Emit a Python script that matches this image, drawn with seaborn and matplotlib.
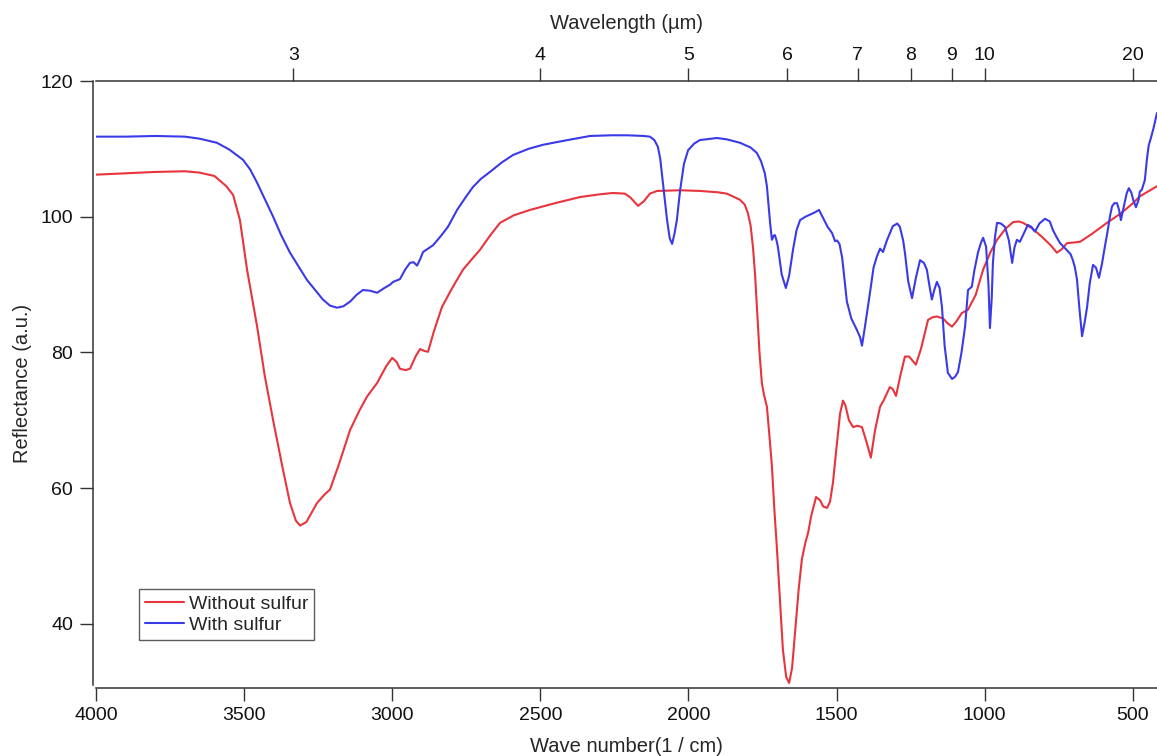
import numpy as np
import pandas as pd
import matplotlib
matplotlib.use("Agg")
import matplotlib.pyplot as plt
import seaborn as sns
from matplotlib.lines import Line2D

# ---------------- data ----------------
wn_without = [4000, 3900, 3800, 3700, 3650, 3600, 3560, 3537, 3514, 3490, 3456, 3430, 3402, 3370,
              3345, 3325, 3311, 3290, 3254, 3230, 3210, 3180, 3142, 3110, 3085, 3051, 3020, 3000,
              2985, 2974, 2955, 2940, 2920, 2906, 2890, 2879, 2860, 2832, 2800, 2761, 2730, 2704,
              2670, 2636, 2590, 2535, 2450, 2366, 2300, 2255, 2214, 2195, 2170, 2150, 2130, 2106,
              2028, 1961, 1900, 1870, 1826, 1810, 1799, 1790, 1782, 1775, 1769, 1760, 1752, 1745,
              1735, 1727, 1718, 1710, 1701, 1690, 1681, 1670, 1660, 1650, 1640, 1628, 1617, 1605,
              1596, 1585, 1569, 1555, 1545, 1532, 1522, 1512, 1500, 1488, 1478, 1470, 1458, 1444,
              1430, 1414, 1400, 1384, 1370, 1353, 1340, 1320, 1310, 1299, 1285, 1269, 1255, 1232,
              1215, 1191, 1175, 1161, 1140, 1125, 1110, 1095, 1077, 1056, 1030, 1005, 980, 958,
              930, 904, 885, 870, 840, 803, 775, 756, 740, 722, 700, 678, 640, 587, 540, 499,
              476, 445, 418]
refl_without = [106.2, 106.4, 106.6, 106.7, 106.5, 106.0, 104.5, 103.2, 99.5, 92.2, 83.8, 76.5, 70.0, 63.0,
                57.8, 55.2, 54.5, 55.0, 57.8, 59.0, 59.8, 63.5, 68.6, 71.5, 73.5, 75.5, 78.0, 79.2,
                78.6, 77.6, 77.4, 77.6, 79.5, 80.5, 80.2, 80.1, 83.0, 86.7, 89.3, 92.2, 93.8, 95.1,
                97.2, 99.1, 100.2, 101.0, 102.0, 102.9, 103.3, 103.5, 103.4, 102.8, 101.6, 102.3, 103.4, 103.8,
                103.9, 103.8, 103.6, 103.4, 102.5, 101.8, 100.5, 98.7, 95.5, 91.5, 87.0, 80.0, 75.5, 73.8,
                72.0, 68.0, 63.2, 57.0, 51.0, 43.0, 36.2, 32.2, 31.3, 33.5, 38.7, 45.0, 49.5, 52.0,
                53.4, 56.0, 58.7, 58.2, 57.3, 57.1, 58.0, 60.8, 66.0, 71.0, 72.9, 72.2, 70.0, 69.0,
                69.2, 69.0, 67.0, 64.5, 68.5, 72.0, 73.0, 74.9, 74.6, 73.6, 76.5, 79.4, 79.4, 78.2,
                80.5, 84.8, 85.2, 85.3, 85.0, 84.3, 83.8, 84.6, 85.8, 86.3, 88.5, 92.2, 94.8, 96.6,
                98.2, 99.2, 99.3, 99.1, 98.3, 96.9, 95.7, 94.7, 95.2, 96.1, 96.2, 96.3, 97.4, 99.1, 100.5, 102.0,
                103.0, 103.8, 104.5]

wn_with = [4000, 3900, 3800, 3700, 3650, 3592, 3550, 3504, 3480, 3456, 3430, 3402, 3375, 3345,
           3315, 3288, 3260, 3234, 3210, 3186, 3165, 3142, 3120, 3099, 3075, 3051, 3030, 3007,
           2997, 2974, 2955, 2940, 2928, 2916, 2905, 2896, 2862, 2835, 2812, 2781, 2750, 2727,
           2700, 2670, 2630, 2592, 2540, 2491, 2420, 2332, 2260, 2207, 2150, 2130, 2115, 2103,
           2095, 2086, 2072, 2063, 2055, 2047, 2039, 2028, 2015, 2001, 1980, 1961, 1904, 1870,
           1826, 1790, 1769, 1755, 1742, 1735, 1731, 1724, 1718, 1712, 1708, 1703, 1698, 1685,
           1671, 1660, 1647, 1635, 1623, 1605, 1590, 1575, 1559, 1545, 1530, 1515, 1505, 1498,
           1490, 1481, 1465, 1450, 1431, 1420, 1414, 1405, 1387, 1375, 1364, 1353, 1343, 1330,
           1310, 1295, 1286, 1275, 1269, 1258, 1245, 1232, 1218, 1205, 1195, 1185, 1178, 1170,
           1161, 1152, 1144, 1135, 1124, 1110, 1100, 1090, 1078, 1066, 1056, 1043, 1035, 1022,
           1012, 1005, 995, 987, 982, 976, 972, 965, 958, 945, 931, 918, 907, 899, 891, 881,
           868, 854, 842, 830, 815, 796, 780, 769, 757, 745, 725, 710, 702, 695, 688, 680, 671,
           662, 654, 645, 634, 624, 614, 604, 594, 585, 577, 570, 562, 553, 546, 540, 530, 520,
           513, 505, 497, 489, 480, 476, 469, 459, 452, 446, 438, 430, 418]
refl_with = [111.8, 111.8, 111.9, 111.8, 111.5, 110.9, 109.9, 108.4, 107.0, 105.0, 102.6, 100.0, 97.3, 94.7,
             92.6, 90.7, 89.2, 87.8, 86.9, 86.6, 86.8, 87.5, 88.5, 89.2, 89.1, 88.8, 89.4, 90.0,
             90.4, 90.8, 92.3, 93.2, 93.3, 92.8, 93.8, 94.8, 95.8, 97.2, 98.5, 101.0, 103.0, 104.4,
             105.6, 106.6, 108.0, 109.1, 110.0, 110.6, 111.2, 111.9, 112.0, 112.0, 111.9, 111.8, 111.3, 110.3,
             108.5, 105.0, 99.5, 96.8, 96.0, 97.5, 99.5, 103.9, 107.8, 109.8, 110.8, 111.3, 111.6, 111.4,
             110.9, 110.2, 109.4, 108.2, 106.4, 104.5, 102.5, 99.0, 96.6, 97.2, 97.3, 96.6, 95.6, 91.5,
             89.5, 91.3, 95.1, 98.0, 99.5, 100.0, 100.3, 100.6, 101.0, 99.8, 98.5, 97.6, 96.4, 96.5,
             96.0, 94.0, 87.5, 85.0, 83.3, 82.2, 81.0, 83.5, 88.8, 92.5, 94.1, 95.3, 94.8, 96.5,
             98.6, 99.0, 98.5, 96.5, 94.7, 90.5, 88.0, 91.0, 93.6, 93.2, 92.2, 89.5, 87.8, 89.2,
             90.4, 89.5, 86.7, 81.0, 77.0, 76.1, 76.4, 77.1, 80.0, 83.8, 89.2, 89.7, 92.0, 94.8,
             96.2, 96.9, 95.6, 90.0, 83.6, 88.0, 93.2, 97.0, 99.1, 99.0, 98.5, 96.5, 93.2, 95.5, 96.6, 96.3,
             97.5, 98.8, 98.5, 97.8, 99.0, 99.7, 99.3, 98.0, 97.0, 96.1, 95.2, 94.5, 93.6, 92.5, 90.7, 86.5, 82.4,
             84.5, 86.7, 90.2, 92.9, 92.5, 91.0, 93.0, 95.6, 97.8, 100.0, 101.5, 102.0, 102.0, 101.0, 99.5, 101.5, 103.5,
             104.2, 103.6, 102.3, 101.4, 102.5, 103.7, 104.0, 105.4, 108.5, 110.5, 111.7, 113.0, 115.3]

series_names = ["Without sulfur", "With sulfur"]
wavelength_ticks = [3, 4, 5, 6, 7, 8, 9, 10, 20]
bottom_ticks = [4000, 3500, 3000, 2500, 2000, 1500, 1000, 500]
left_ticks = [40, 60, 80, 100, 120]

# ---------------- styling ----------------
sns.set_style("ticks")
plt.rcParams['font.family'] = ['Liberation Sans', 'DejaVu Sans']
plt.rcParams['axes.unicode_minus'] = False

spine_c = "#333333"
red = "#e8343c"
blue = "#3a3ae8"
tick_fs = 14
label_fs = 14.5

fig = plt.figure(figsize=(11.57, 7.56), dpi=100)
ax = fig.add_axes([96 / 1157, 1 - 685 / 756, 1 - 96 / 1157, (685 - 81) / 756])

df = pd.concat([
    pd.DataFrame({"wn": wn_without, "refl": refl_without, "series": series_names[0]}),
    pd.DataFrame({"wn": wn_with, "refl": refl_with, "series": series_names[1]}),
])
sns.lineplot(data=df, x="wn", y="refl", hue="series", palette=[red, blue],
             sort=False, estimator=None, linewidth=1.5, ax=ax, legend=False)

ax.set_xlim(4000, 418)
ax.set_ylim(31.0, 120)
ax.set_xticks(bottom_ticks)
ax.set_xticklabels([str(t) for t in bottom_ticks])
ax.set_yticks(left_ticks)
ax.set_yticklabels([str(t) for t in left_ticks])

ax.set_xlabel("Wave number(1 / cm)", fontsize=label_fs, labelpad=10)
ax.set_ylabel("Reflectance (a.u.)", fontsize=label_fs, labelpad=6)

for s in ["left", "bottom", "top"]:
    ax.spines[s].set_color(spine_c)
    ax.spines[s].set_linewidth(1.1)
ax.spines["right"].set_visible(False)
ax.spines["left"].set_position(("outward", 2))
ax.spines["bottom"].set_position(("outward", 2))
ax.tick_params(axis="both", direction="out", length=9.5, width=1.0, color=spine_c,
               labelsize=tick_fs, pad=4, labelcolor="#111111")
ax.tick_params(axis="y", pad=5)

# top wavelength axis
ax2 = ax.twiny()
ax2.set_xlim(ax.get_xlim())
ax2.set_xticks([10000.0 / w for w in wavelength_ticks])
ax2.set_xticklabels([str(w) for w in wavelength_ticks])
ax2.set_xlabel("Wavelength (µm)", fontsize=label_fs, labelpad=13)
for s in ["left", "bottom", "right"]:
    ax2.spines[s].set_visible(False)
ax2.spines["top"].set_color(spine_c)
ax2.spines["top"].set_linewidth(1.1)
ax2.tick_params(axis="x", direction="out", length=9.5, width=1.0, color=spine_c,
                labelsize=tick_fs, pad=3, labelcolor="#111111")
ax.spines["top"].set_visible(False)

# legend
handles = [Line2D([], [], color=red, lw=1.5), Line2D([], [], color=blue, lw=1.5)]
leg = ax.legend(handles, series_names, loc="lower left",
                bbox_to_anchor=((139 - 96) / 1061, (685 - 640) / 604),
                borderaxespad=0, fontsize=14, frameon=True, fancybox=False,
                handlelength=2.0, handletextpad=0.25, labelspacing=0.2,
                borderpad=0.3)
leg.get_frame().set_edgecolor(spine_c)
leg.get_frame().set_linewidth(1.0)

fig.savefig("out.png", dpi=100)
